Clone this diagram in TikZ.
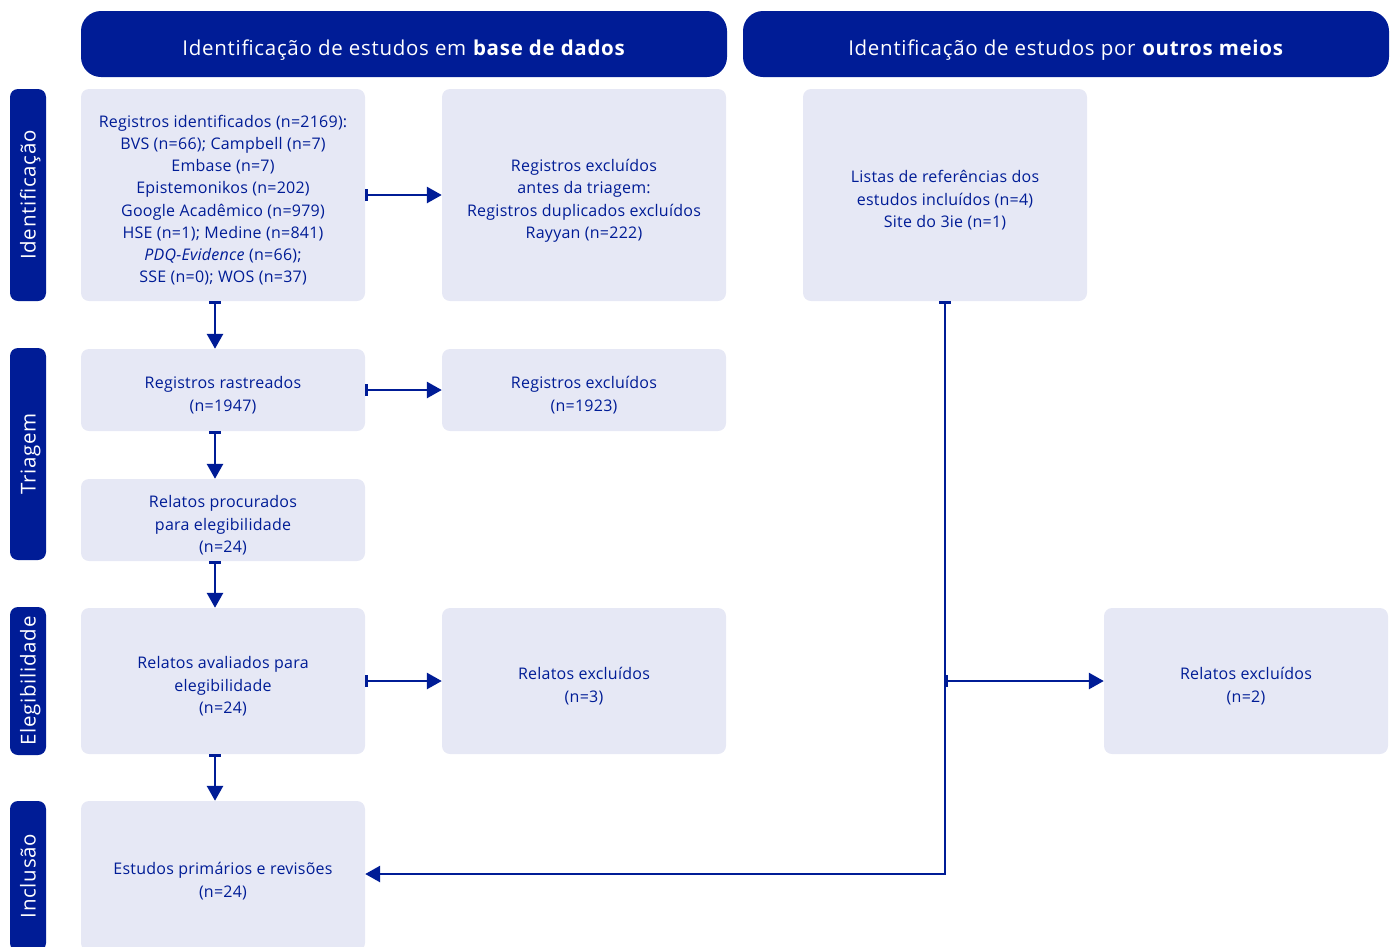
\documentclass[tikz,border=0pt]{standalone}
\usepackage{fontspec}
\setmainfont{Open Sans}
\definecolor{navy1}{RGB}{0, 28, 150}
\definecolor{paleblue}{RGB}{230, 232, 245}
\usetikzlibrary{arrows.meta, positioning, calc}

\begin{document}
\begin{tikzpicture}[
  x=1pt, y=-1pt,
  head/.style={fill=navy1, rounded corners=20pt, text=white, minimum width=646pt, minimum height=66pt, text height=22pt, text depth=0pt, font=\fontsize{20.5}{24}\selectfont\addfontfeature{LetterSpace=3.5}},
  stage/.style={fill=navy1, rounded corners=8pt, text=white, rotate=90, minimum height=36pt, text height=15pt, text depth=0pt, font=\fontsize{20.5}{24}\selectfont\addfontfeature{LetterSpace=3.5}},
  cbox/.style={fill=paleblue, rounded corners=8pt, text=navy1, align=center, minimum width=284pt, text depth=0pt, font=\fontsize{16}{22.2}\selectfont\addfontfeature{LetterSpace=1.5}},
  two/.style={text height=42.2pt}, three/.style={text height=64.4pt},
  four/.style={text height=86.6pt}, eight/.style={text height=175.4pt},
  flow/.style={draw=navy1, line width=2.8pt, {Bar[width=12pt]}-{Triangle[length=15pt,width=16pt]}}
]
  \useasboundingbox (0,0) rectangle (1394,946);
  % column headers
  \node[head] (hdb) at (404, 44) {Identificação de estudos em \textbf{base de dados}};
  \node[head] (hoth) at (1066, 44) {Identificação de estudos por \textbf{outros meios}};
  % stage labels
  \node[stage, minimum width=212pt] (sid) at (28, 195) {Identificação};
  \node[stage, minimum width=212pt] (str) at (28, 454) {Triagem};
  \node[stage, minimum width=148pt] (sel) at (28, 681) {Elegibilidade};
  \node[stage, minimum width=150pt] (sinc) at (28, 876) {Inclusão};
  % boxes
  \node[cbox, eight, minimum height=212pt] (ident) at (223, 195) {Registros identificados (n=2169):\\BVS (n=66); Campbell (n=7)\\Embase (n=7)\\Epistemonikos (n=202)\\Google Acadêmico (n=979)\\HSE (n=1); Medine (n=841)\\\textit{PDQ-Evidence} (n=66);\\SSE (n=0); WOS (n=37)};
  \node[cbox, four, minimum height=212pt] (excl1) at (584, 195) {Registros excluídos\\antes da triagem:\\Registros duplicados excluídos\\Rayyan (n=222)};
  \node[cbox, three, minimum height=212pt] (lists) at (945, 195) {Listas de referências dos\\estudos incluídos (n=4)\\Site do 3ie (n=1)};
  \node[cbox, two, minimum height=82pt] (track) at (223, 390) {Registros rastreados\\(n=1947)};
  \node[cbox, two, minimum height=82pt] (excl2) at (584, 390) {Registros excluídos\\(n=1923)};
  \node[cbox, three, minimum height=82pt] (sought) at (223, 520) {Relatos procurados\\para elegibilidade\\(n=24)};
  \node[cbox, three, minimum height=146pt] (assess) at (223, 681) {Relatos avaliados para\\elegibilidade\\(n=24)};
  \node[cbox, two, minimum height=146pt] (excl3) at (584, 681) {Relatos excluídos\\(n=3)};
  \node[cbox, two, minimum height=146pt] (excl4) at (1246, 681) {Relatos excluídos\\(n=2)};
  \node[cbox, two, minimum height=150pt] (incl) at (223, 876) {Estudos primários e revisões\\(n=24)};
  % arrows
  \draw[flow] (ident.east) -- (excl1.west);
  \draw[flow] (track.east) -- (excl2.west);
  \draw[flow] (assess.east) -- (excl3.west);
  \draw[flow] ([xshift=-8pt]ident.south) -- ([xshift=-8pt]track.north);
  \draw[flow] ([xshift=-8pt]track.south) -- ([xshift=-8pt]sought.north);
  \draw[flow] ([xshift=-8pt]sought.south) -- ([xshift=-8pt]assess.north);
  \draw[flow] ([xshift=-8pt]assess.south) -- ([xshift=-8pt]incl.north);
  \draw[flow] (lists.south) |- ([yshift=2pt]incl.east);
  \draw[flow] (lists.south |- excl4.west) -- (excl4.west);
\end{tikzpicture}
\end{document}
